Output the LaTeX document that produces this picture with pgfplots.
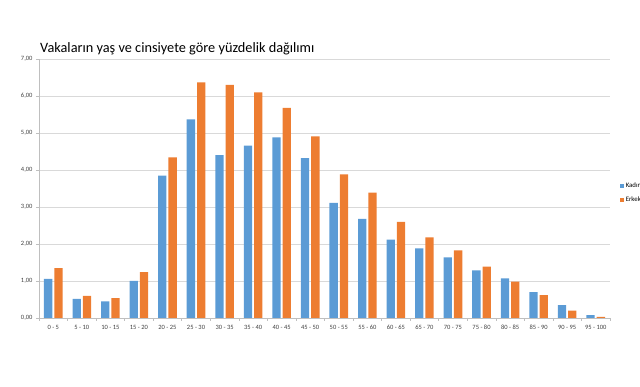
\documentclass[border=0pt]{standalone}
\usepackage{pgfplots}
\pgfplotsset{compat=1.18}
\usepackage{fontspec}
\setmainfont{Carlito}
\definecolor{kblue}{HTML}{5B9BD5}
\definecolor{korange}{HTML}{ED7D31}
\definecolor{gridgray}{HTML}{D9D9D9}
\definecolor{axgray}{HTML}{BFBFBF}
\definecolor{txtgray}{HTML}{404040}
\begin{document}
\begin{tikzpicture}[x=1pt,y=1pt]
\useasboundingbox (0,0) rectangle (640,387);
\node[anchor=base west, inner sep=0pt, font=\fontsize{14.3}{16}\selectfont] at (40,334) {Vakaların yaş ve cinsiyete göre yüzdelik dağılımı};
\begin{axis}[
  at={(39pt,69pt)}, anchor=south west,
  scale only axis, width=571pt, height=259pt,
  ybar, bar width=8.3pt,
  xmin=-0.5, xmax=19.5, ymin=0, ymax=7,
  xtick={0,...,19},
  xticklabels={0 - 5,5 - 10,10 - 15,15 - 20,20 - 25,25 - 30,30 - 35,35 - 40,40 - 45,45 - 50,50 - 55,55 - 60,60 - 65,65 - 70,70 - 75,75 - 80,80 - 85,85 - 90,90 - 95,95 - 100},
  minor xtick={-0.5,0.5,...,19.5},
  ytick={0,1,...,7},
  /pgf/number format/assume math mode=true,
  yticklabel style={/pgf/number format/.cd, fixed, fixed zerofill, precision=2, use comma},
  ymajorgrids, major grid style={gridgray, line width=0.8pt},
  axis lines*=left,
  axis line style={axgray, line width=0.8pt},
  tick align=outside,
  major x tick style={draw=none},
  minor x tick style={axgray, line width=0.6pt},
  major y tick style={axgray, line width=0.6pt},
  major tick length=3pt, minor tick length=3pt,
  tick label style={font=\fontsize{6.5}{7.5}\selectfont, text=txtgray},
  xticklabel style={yshift=-1pt},
  legend style={at={(rel axis cs:1,0.483)}, anchor=west, xshift=10pt, draw=none, fill=none,
    font=\fontsize{6.8}{7.5}\selectfont, row sep=4pt, inner sep=0pt,
    legend cell align=left},
  legend image code/.code={\fill[#1,draw=none] (0pt,-1.8pt) rectangle (3.6pt,1.8pt);},
]
\addplot[fill=kblue, draw=none] coordinates {
(0,1.06) (1,0.52) (2,0.45) (3,1.00) (4,3.85) (5,5.37) (6,4.40) (7,4.66) (8,4.88) (9,4.32)
(10,3.11) (11,2.68) (12,2.12) (13,1.88) (14,1.64) (15,1.29) (16,1.07) (17,0.70) (18,0.35) (19,0.08)};
\addplot[fill=korange, draw=none] coordinates {
(0,1.35) (1,0.60) (2,0.54) (3,1.24) (4,4.34) (5,6.37) (6,6.30) (7,6.10) (8,5.68) (9,4.91)
(10,3.88) (11,3.39) (12,2.60) (13,2.18) (14,1.83) (15,1.39) (16,0.98) (17,0.62) (18,0.20) (19,0.03)};
\legend{Kadın, Erkek}
\end{axis}
\end{tikzpicture}
\end{document}
